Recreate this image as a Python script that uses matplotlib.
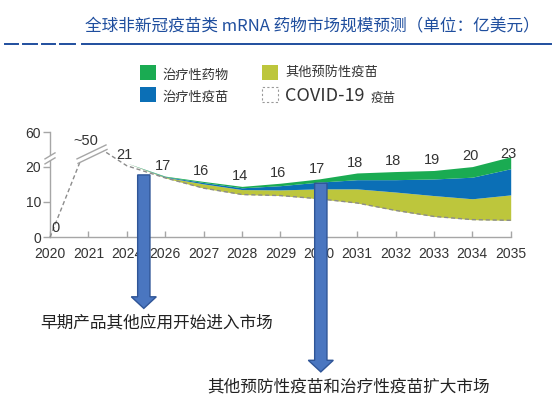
import numpy as np
import matplotlib
matplotlib.use("Agg")
import matplotlib.pyplot as plt
from matplotlib.patches import Rectangle, Polygon, FancyArrow

CJK = ['Noto Sans CJK SC', 'DejaVu Sans']
NUM = ['Liberation Sans Narrow', 'Liberation Sans', 'DejaVu Sans']

# data
years = ['2020', '2021', '2024', '2026', '2027', '2028', '2029',
         '2030', '2031', '2032', '2033', '2034', '2035']
covid = [0, 50, 21, 16.8, 13.9, 12.1, 11.8, 10.9, 9.7, 7.6, 5.9, 5.0, 4.8]
other_vacc = [0, 0, 0, 0.2, 1.2, 1.4, 1.6, 2.8, 4.0, 5.2, 5.9, 5.9, 7.2]
ther_vacc = [0, 0, 0, 0.15, 0.4, 0.5, 1.2, 1.9, 2.6, 3.5, 4.7, 6.1, 7.4]
ther_drug = [0, 0, 0, 0.15, 0.3, 0.4, 0.7, 0.9, 1.9, 2.3, 2.4, 3.0, 3.4]
total_labels = ['0', '~50', '21', '17', '16', '14', '16', '17', '18', '18', '19', '20', '23']
ytick_vals = [0, 10, 20, 60]

c_green = '#1aab52'
c_blue = '#0b6fb6'
c_olive = '#bdc63c'
c_axis = '#a6a6a6'
c_title = '#1f4e9e'


# broken y axis: linear up to 20, compressed above
def ymap(v):
    v = np.asarray(v, dtype=float)
    return np.where(v <= 20, v, 20 + (v - 20) * 9.7 / 40)


fig = plt.figure(figsize=(5.6, 4), dpi=100)
ax = fig.add_axes([50 / 560, 1 - 237.3 / 400, 460.7 / 560, 105 / 400])
x = np.arange(len(years))

b0 = np.array(covid, dtype=float)
b1 = b0 + np.array(other_vacc)
b2 = b1 + np.array(ther_vacc)
b3 = b2 + np.array(ther_drug)

s = slice(2, None)
ax.fill_between(x[s], b0[s], b1[s], color=c_olive, lw=0, zorder=2)
ax.fill_between(x[s], b1[s], b2[s], color=c_blue, lw=0, zorder=2)
ax.fill_between(x[s], b2[s], b3[s], color=c_green, lw=0, zorder=2)
ax.plot(x, ymap(b0), color='#8c8c8c', lw=1, ls=(0, (3, 2)), zorder=3, clip_on=False)

# break on the 2021 peak
px = lambda p: (p - 50) / 38.39
py = lambda p: (237.3 - p) / 3.53
ax.add_patch(Polygon([(px(74), py(165.2)), (px(110), py(148)), (px(110), py(136)),
                      (px(74), py(136))], closed=True, fc='white', ec='none',
                     zorder=4, clip_on=False))
ax.plot([px(78), px(107)], [py(163.5), py(149.6)], color=c_axis, lw=1, zorder=5, clip_on=False)
ax.plot([px(77), px(106)], [py(159), py(145.1)], color=c_axis, lw=1, zorder=5, clip_on=False)

# value labels
for i, lab in enumerate(total_labels):
    top = ymap(b3[i])
    off = (-1.5, 7.5)
    if i == 0:
        off = (4, 7)
    elif i == 1:
        off = (-2, 0)
    ax.annotate(lab, (x[i], top), xytext=off, textcoords='offset points',
                ha='center', va='center', fontsize=10.5, family=NUM,
                color='#333333', zorder=6, annotation_clip=False)

ax.set_xlim(0, len(years) - 1)
ax.set_ylim(0, float(ymap(60)))
ax.set_xticks(x)
ax.set_xticklabels(years, family=NUM, fontsize=10, color='#333333')
ax.set_yticks(ymap(ytick_vals))
ax.set_yticklabels([str(v) for v in ytick_vals], family=NUM, fontsize=10, color='#333333')
ax.tick_params(axis='x', direction='in', length=4, width=1, color=c_axis, pad=7)
ax.tick_params(axis='y', direction='out', length=5, width=1, color=c_axis, pad=1.5)
for side in ['top', 'right']:
    ax.spines[side].set_visible(False)
for side in ['left', 'bottom']:
    ax.spines[side].set_color(c_axis)
    ax.spines[side].set_linewidth(1)
ax.patch.set_alpha(0)

# break on the y axis
ax.add_patch(Polygon([(px(45), py(159.5)), (px(55), py(153.5)), (px(55), py(157.5)),
                      (px(45), py(163.5))], closed=True, fc='white', ec='none',
                     zorder=4, clip_on=False))
ax.plot([px(45), px(55)], [py(159), py(153)], color=c_axis, lw=1, zorder=5, clip_on=False)
ax.plot([px(45), px(55)], [py(164), py(158)], color=c_axis, lw=1, zorder=5, clip_on=False)

# arrows
for cx, top, tip in [(143.8, 175, 308.3), (320.8, 183.3, 371.7)]:
    ax.add_patch(FancyArrow(px(cx), py(top), 0, py(tip) - py(top), width=12.3 / 38.39,
                            head_width=25 / 38.39, head_length=11.6 / 3.53,
                            length_includes_head=True, fc='#4a76c0', ec='#2f5597',
                            lw=1, zorder=7, clip_on=False))

fig.text(157 / 560, 1 - 323 / 400, '早期产品其他应用开始进入市场', ha='center', va='center',
         fontsize=12, family=CJK, color='#222222')
fig.text(349 / 560, 1 - 387 / 400, '其他预防性疫苗和治疗性疫苗扩大市场', ha='center', va='center',
         fontsize=12, family=CJK, color='#222222')

# title and header rule
fig.text(540 / 560, 1 - 26.7 / 400, '全球非新冠疫苗类 mRNA 药物市场规模预测（单位：亿美元）',
         ha='right', va='center', fontsize=12, family=CJK, style='italic', color=c_title)
for x0, x1 in [(5, 18), (23, 37), (42, 55), (60, 75), (81.7, 550.7)]:
    fig.add_artist(plt.Line2D([x0 / 560, x1 / 560], [1 - 44.3 / 400] * 2,
                              color=c_title, lw=1.4))

# legend
def square(x0, y0, **kw):
    fig.add_artist(Rectangle((x0 / 560, 1 - (y0 + 15) / 400), 16 / 560, 15 / 400,
                             transform=fig.transFigure, **kw))

square(140, 65, fc=c_green, ec='none')
square(140, 86.7, fc=c_blue, ec='none')
square(262, 65, fc=c_olive, ec='none')
square(262, 86.7, fc='none', ec='#999999', ls=(0, (2, 2)), lw=0.8)
fig.text(162.7 / 560, 1 - 75 / 400, '治疗性药物', va='center', fontsize=9.5, family=CJK, color='#333333')
fig.text(162.7 / 560, 1 - 97.3 / 400, '治疗性疫苗', va='center', fontsize=9.5, family=CJK, color='#333333')
fig.text(285 / 560, 1 - 72.7 / 400, '其他预防性疫苗', va='center', fontsize=9.5, family=CJK, color='#333333')
fig.text(285 / 560, 1 - 96 / 400, 'COVID-19', va='center', fontsize=13, family=CJK, color='#333333')
fig.text(371 / 560, 1 - 98.3 / 400, '疫苗', va='center', fontsize=9, family=CJK, color='#333333')

fig.savefig('out.png', dpi=100)
